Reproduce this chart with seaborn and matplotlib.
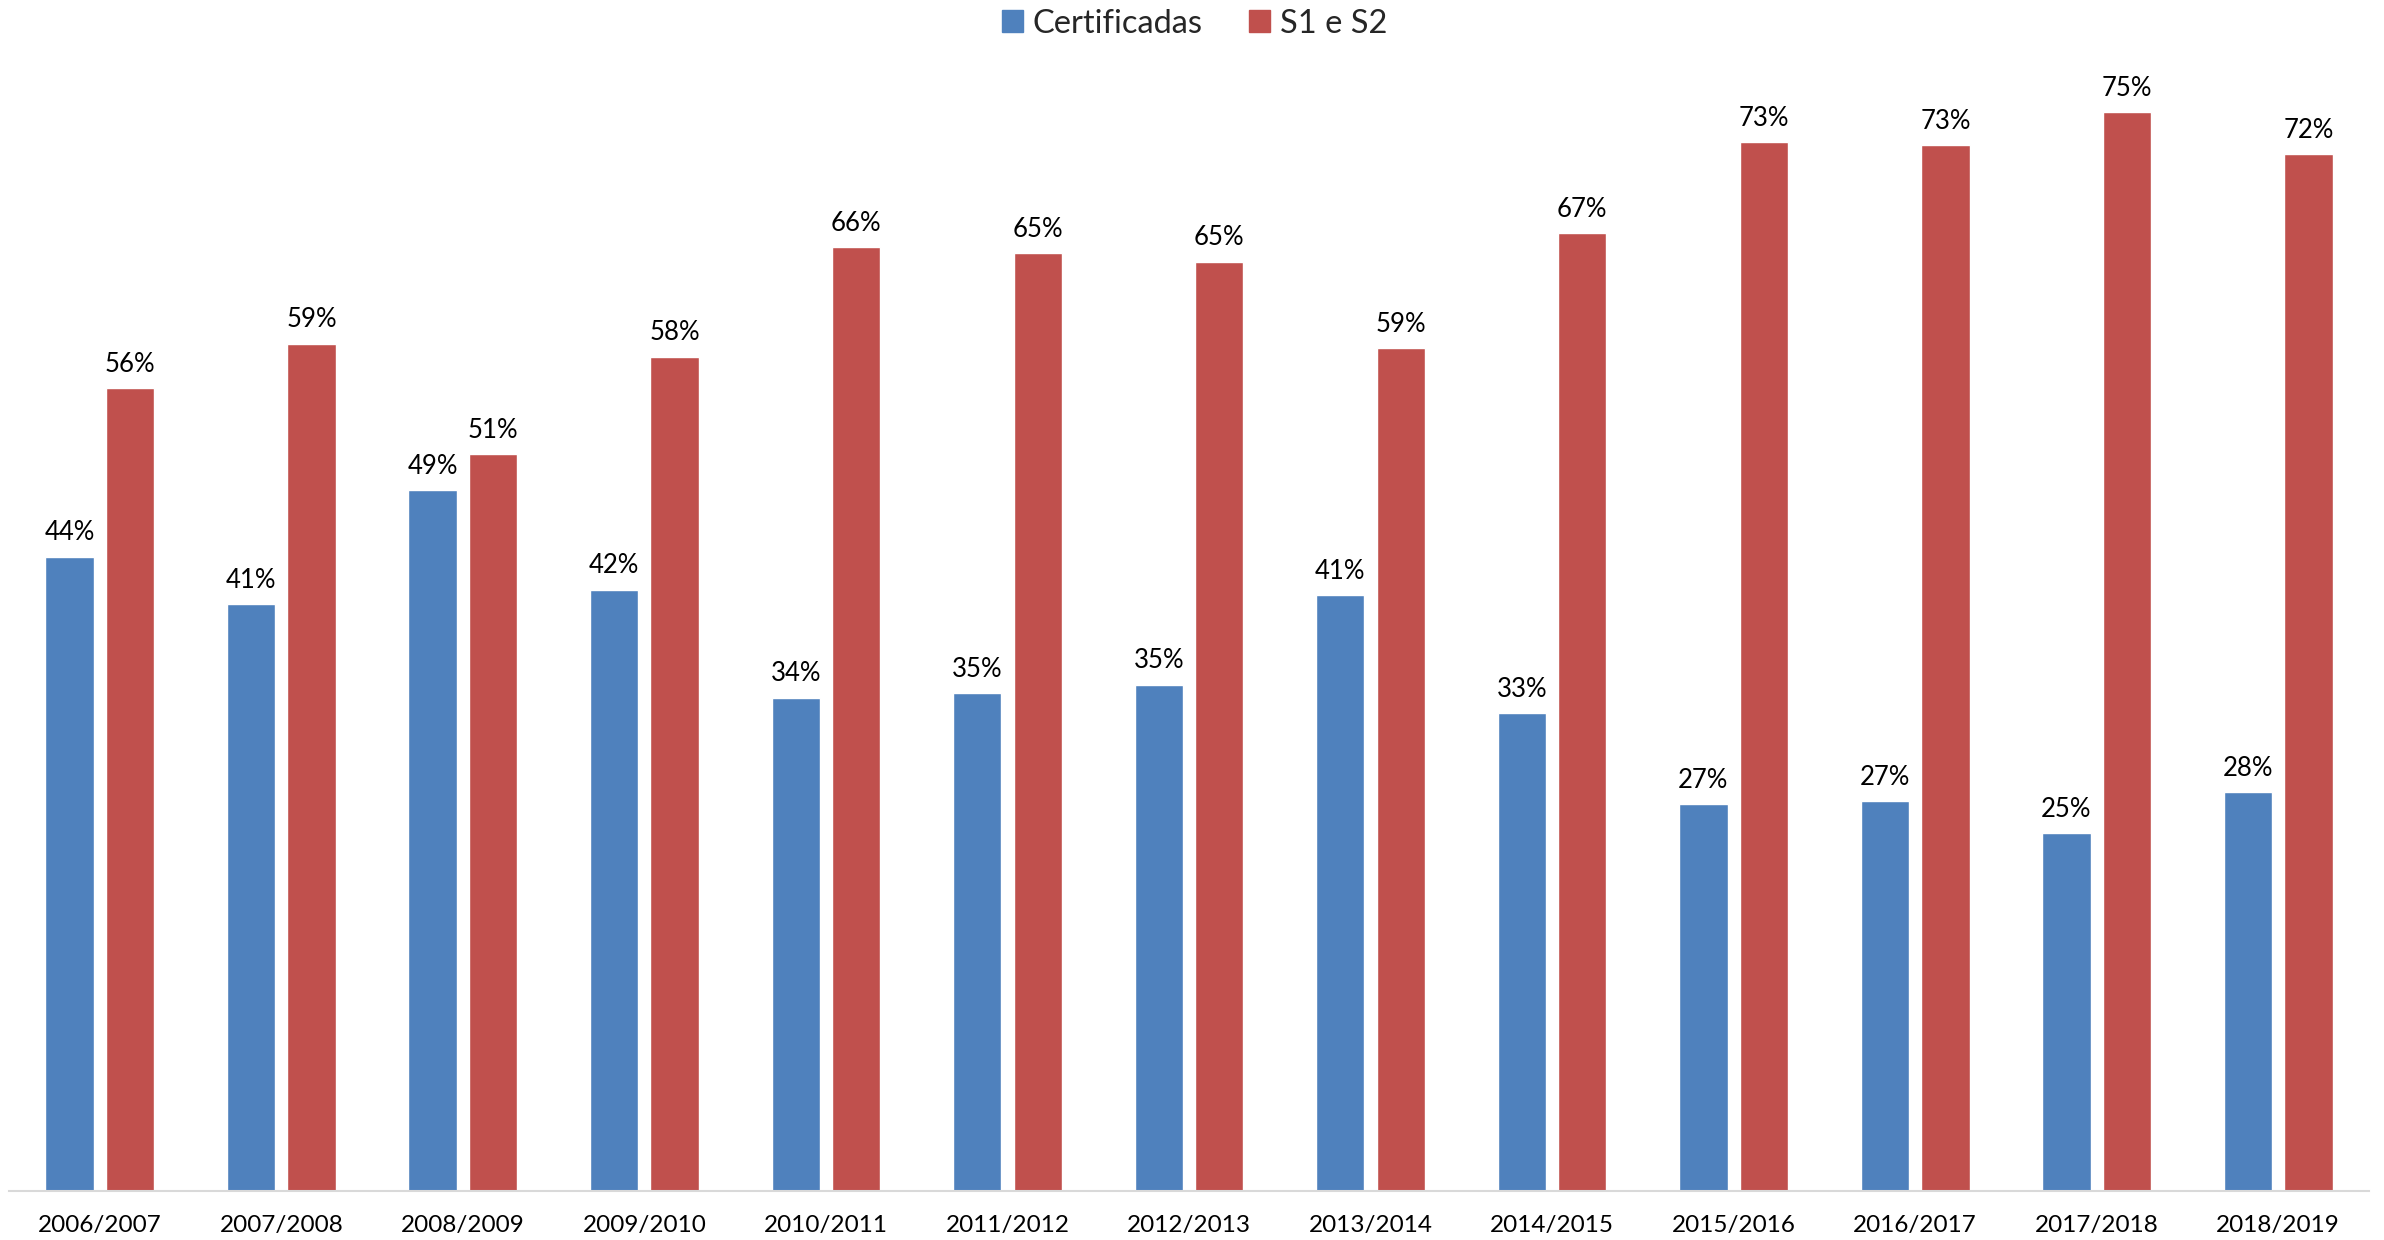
import matplotlib
matplotlib.use("Agg")
import matplotlib.pyplot as plt
import pandas as pd
import seaborn as sns

years = ["2006/2007", "2007/2008", "2008/2009", "2009/2010", "2010/2011", "2011/2012",
         "2012/2013", "2013/2014", "2014/2015", "2015/2016", "2016/2017", "2017/2018", "2018/2019"]
certificadas = [44.1, 40.8, 48.7, 41.8, 34.3, 34.6, 35.2, 41.4, 33.2, 26.9, 27.1, 24.9, 27.7]
s1_s2 = [55.8, 58.9, 51.2, 58.0, 65.6, 65.2, 64.6, 58.6, 66.6, 72.9, 72.7, 75.0, 72.1]
series_names = ["Certificadas", "S1 e S2"]
colors = ["#4F81BD", "#C0504D"]

df = pd.DataFrame({
    "ano": years * 2,
    "valor": certificadas + s1_s2,
    "serie": [series_names[0]] * len(years) + [series_names[1]] * len(years),
})

sns.set_style("white")
plt.rcParams["font.family"] = ["Lato", "DejaVu Sans"]

fig = plt.figure(figsize=(23.84, 12.40), dpi=100)
ax = fig.add_axes([9 / 2384, 49 / 1240, 2360 / 2384, 1151 / 1240])

sns.barplot(data=df, x="ano", y="valor", hue="serie", palette=colors,
            width=0.666, gap=0.2, ax=ax, legend=False, saturation=1)

# value labels above each bar
for cont in ax.containers:
    ax.bar_label(cont, labels=[f"{v:.0f}%" for v in cont.datavalues],
                 padding=8, fontsize=18.5, color="black")

ax.set_xlim(-0.5, 12.5)
ax.set_ylim(0, 80)
ax.set_xlabel("")
ax.set_ylabel("")
ax.set_yticks([])
ax.tick_params(axis="x", length=0, pad=17, labelsize=17.5, labelcolor="black")
for s in ["top", "left", "right"]:
    ax.spines[s].set_visible(False)
ax.spines["bottom"].set_color("#D9D9D9")
ax.spines["bottom"].set_linewidth(1.5)

handles = [plt.Rectangle((0, 0), 1, 1, color=c) for c in colors]
fig.legend(handles, series_names, loc="center", bbox_to_anchor=(0.501, 0.981), ncol=2,
           frameon=False, fontsize=23.5, handlelength=0.65, handleheight=0.65,
           handletextpad=0.3, columnspacing=1.4)

fig.savefig("out.png", dpi=100)
